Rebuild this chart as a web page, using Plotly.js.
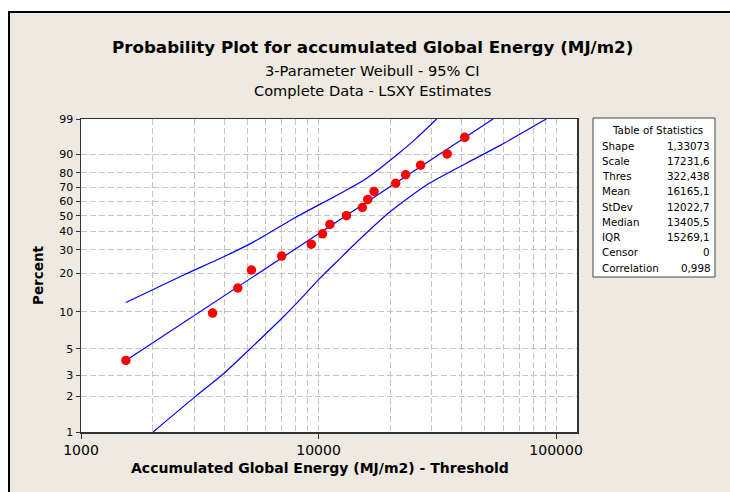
<!DOCTYPE html>
<html><head><meta charset="utf-8">
<script src="https://cdn.plot.ly/plotly-3.0.1.min.js"></script>
<style>
html,body{margin:0;padding:0;background:#fff;width:730px;height:492px;overflow:hidden;}
#frame{position:absolute;left:8px;top:11px;width:722px;height:481px;border-left:2px solid #000;border-top:2px solid #000;background:#EEEAE1;}
#chart{position:absolute;left:10px;top:13px;width:720px;height:479px;}
</style></head><body><div id="frame"></div><div id="chart"></div>
<script>
// Data (x = Accumulated Global Energy - Threshold, MJ/m2 ; percent)
const dataX   = [1545,3580,4571,5220,6995,9320,10394,11165,13106,15295,16118,17130,21129,23268,26900,34780,41270];
const dataPct = [4.0,9.8,15.5,21.3,27.0,32.8,38.5,44.3,50.0,55.7,61.5,67.2,73.0,78.7,84.5,90.2,96.0];
const fitX    = [1545,54300];
const fitPct  = [4.0,99.0];
const upperX   = [1545,2732,3994,5336,7857,12734,15963,21330,25870,31400];
const upperPct = [11.9,19.7,26.7,34.0,48.2,67.0,76.4,89.7,95.8,99.0];
const lowerX   = [2011,3017,3994,5169,6995,8380,10000,12334,13583,19995,28500,41950,57880,90900];
const lowerPct = [1.0,1.98,3.11,5.02,8.85,12.6,18.0,26.0,30.6,52.7,71.8,85.6,93.5,99.0];
const yTickPct  = [1,2,3,5,10,20,30,40,50,60,70,80,90,99];
const yGridPct  = [2,3,5,10,20,30,40,50,60,70,80,90];
const xTickVals = [1000,10000,100000];
const xTickText = ['1000','10000','100000'];
const xGridVals = [2000,3000,4000,5000,6000,7000,8000,9000,10000,20000,30000,40000,50000,60000,70000,80000,90000,100000];
const statLabels = ['Shape','Scale','Thres','Mean','StDev','Median','IQR','Censor','Correlation'];
const statValues = ['1,33073','17231,6','322,438','16165,1','12022,7','13405,5','15269,1','0','0,998'];
const titleText = 'Probability Plot for accumulated Global Energy (MJ/m2)';
const subtitle1 = '3-Parameter Weibull - 95% CI';
const subtitle2 = 'Complete Data - LSXY Estimates';
const xTitle = 'Accumulated Global Energy (MJ/m2) - Threshold';
const yTitle = 'Percent';

// Weibull probability scale
const W = p => Math.log(-Math.log(1 - p/100));

const FONT = 'DejaVu Sans, Verdana, sans-serif';
// page pixel -> paper coords (plot area: x 81..577, y 119..432 on page)
const PX0 = 81, PW = 496, PY1 = 432, PH = 313;
const px = x => (x - PX0)/PW;
const py = y => (PY1 - y)/PH;

const band = {color:'#0000FF', width:1.2, shape:'spline', smoothing:0.6};
const traces = [
  {x: upperX, y: upperPct.map(W), mode:'lines', line:band, hoverinfo:'skip'},
  {x: lowerX, y: lowerPct.map(W), mode:'lines', line:band, hoverinfo:'skip'},
  {x: fitX, y: fitPct.map(W), mode:'lines', line:{color:'#0000FF', width:1.2}, hoverinfo:'skip'},
  {x: dataX, y: dataPct.map(W), mode:'markers', marker:{color:'#FF0000', size:9.5}, cliponaxis:false}
];

const annotations = [
  {text:'<b>'+titleText+'</b>', x:px(372), y:py(47), font:{size:16.7}},
  {text:subtitle1, x:px(372), y:py(70), font:{size:14.6}},
  {text:subtitle2, x:px(372), y:py(90), font:{size:14.6}},
  {text:'<b>'+xTitle+'</b>', x:px(320), y:py(468), font:{size:14}},
  {text:'Table of Statistics', x:px(657), y:py(129.5), font:{size:10.3}}
];
statLabels.forEach((l,i)=>{
  const yy = py(145.5 + i*15.27);
  annotations.push({text:l, x:px(600), y:yy, xanchor:'left', font:{size:10.3}});
  annotations.push({text:statValues[i], x:px(712), y:yy, xanchor:'right', font:{size:10.3}});
});
annotations.forEach(a=>{
  a.xref='paper'; a.yref='paper'; a.showarrow=false;
  if(!a.xanchor) a.xanchor='center';
  a.yanchor='middle';
  a.font = Object.assign({family:FONT, color:'#000'}, a.font);
});

const layout = {
  width:720, height:479,
  margin:{l:71, r:153, t:106, b:60},
  paper_bgcolor:'rgba(0,0,0,0)', plot_bgcolor:'#FFFFFF',
  showlegend:false,
  font:{family:FONT, color:'#000'},
  xaxis:{
    type:'log', range:[3, Math.log10(122500)],
    tickvals:xTickVals, ticktext:xTickText,
    ticks:'outside', ticklen:5, tickcolor:'#333', tickwidth:1,
    tickfont:{size:14, family:FONT},
    showline:true, mirror:true, linecolor:'#333', linewidth:1.5,
    showgrid:true, gridcolor:'#C4C4C4', gridwidth:1, griddash:'6px,3px',
    minor:{tickvals:xGridVals, showgrid:true, gridcolor:'#C4C4C4', gridwidth:1, griddash:'6px,3px', ticks:''},
    zeroline:false
  },
  yaxis:{
    range:[W(1), W(99)],
    tickvals:yTickPct.map(W), ticktext:yTickPct.map(String),
    ticks:'outside', ticklen:4, tickcolor:'#333', tickwidth:1,
    tickfont:{size:11, family:FONT},
    showline:true, mirror:true, linecolor:'#333', linewidth:1.5,
    showgrid:false,
    minor:{tickvals:yGridPct.map(W), showgrid:true, gridcolor:'#C4C4C4', gridwidth:1, griddash:'6px,3px', ticks:''},
    zeroline:false,
    title:{text:'<b>'+yTitle+'</b>', font:{size:13.5, family:FONT}, standoff:12}
  },
  shapes:[
    {type:'rect', xref:'paper', yref:'paper', x0:px(593), x1:px(715), y0:py(277), y1:py(118),
     fillcolor:'#FFFFFF', line:{color:'#444', width:1}, layer:'above'}
  ],
  annotations:annotations
};

Plotly.newPlot('chart', traces, layout, {displayModeBar:false, staticPlot:true});
</script></body></html>
